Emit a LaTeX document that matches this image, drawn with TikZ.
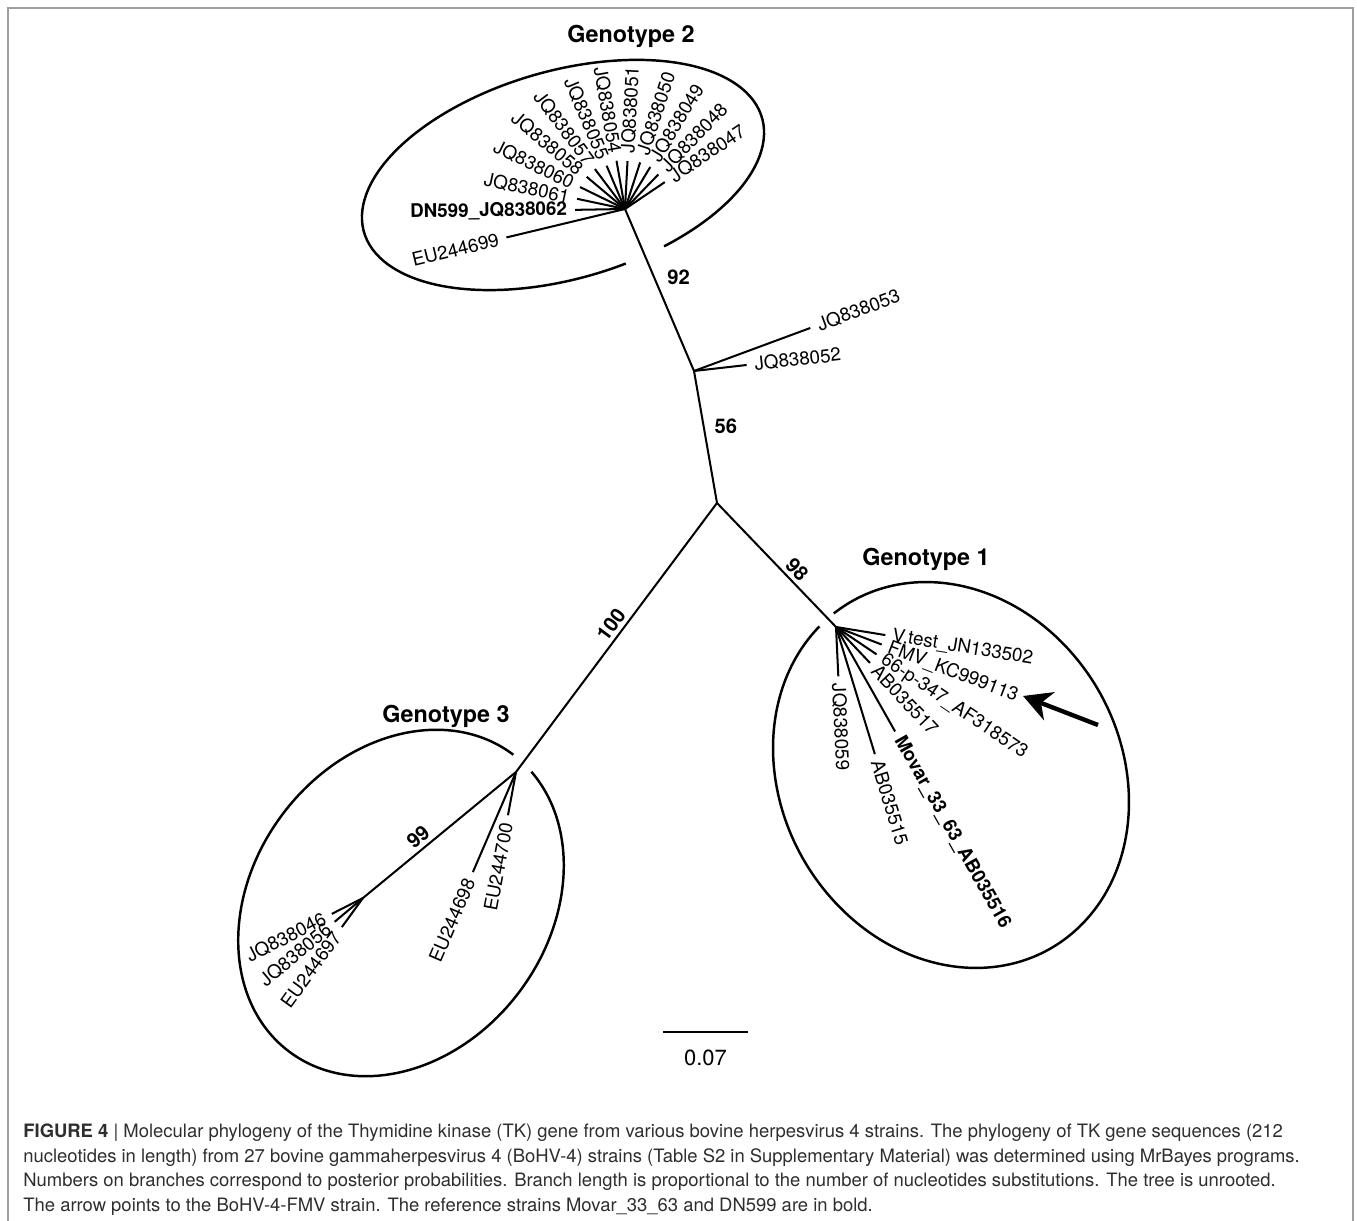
\documentclass[tikz,border=0pt]{standalone}
\usepackage{fontspec}
\setmainfont{TeX Gyre Heros}
\usepackage{tikz}
\usetikzlibrary{arrows.meta,calc}
\definecolor{ink}{HTML}{000000}
\definecolor{capink}{HTML}{2E2E2E}
\definecolor{rim}{HTML}{9E9E9E}
\tikzset{
  br/.style={line width=1.15pt,draw=ink},
  ell/.style={line width=1.4pt,draw=ink},
  lfr/.style={anchor=west,inner sep=4pt,font=\fontsize{10.7}{12}\selectfont},
  lfl/.style={anchor=east,inner sep=4pt,font=\fontsize{10.7}{12}\selectfont},
  pp/.style={inner sep=2pt,font=\fontsize{11.5}{13}\selectfont\bfseries},
  geno/.style={anchor=base,inner sep=0pt,font=\fontsize{13.3}{15}\selectfont\bfseries},
  captxt/.style={anchor=base west,inner sep=0pt,text=capink,font=\fontsize{10.5}{12}\selectfont},
}

\begin{document}
\begin{tikzpicture}[x=0.02cm,y=0.02cm]
  \useasboundingbox (0,0) rectangle (1357,1221);
  \draw[rim,line width=1.1pt] (8,0) -- (8,1213) -- (1353,1213) -- (1353,0);
  % inner nodes of the tree
  \coordinate (H2) at (625,1012);
  \coordinate (A) at (694,850);
  \coordinate (R) at (717,718);
  \coordinate (H1) at (836,594);
  \coordinate (H3) at (516,449);
  \coordinate (S3) at (363,323);
  \draw[br] (H2) -- (A) node[pp,pos=0.42,right=5pt] (p92) {92};
  \draw[br] (A) -- (R) node[pp,pos=0.42,right=3.7pt] (p56) {56};
  \draw[br] (R) -- (H1) node[pp,pos=0.6,sloped,above] (p98) {98};
  \draw[br] (R) -- (H3) node[pp,pos=0.48,sloped,above] (p100) {100};
  \draw[br] (H3) -- (S3) node[pp,pos=0.59,sloped,above] (p99) {99};
  % genotype 2
  \coordinate (g2a) at ($(H2)+(181:50)$);
  \coordinate (g2b) at ($(H2)+(168:49)$);
  \coordinate (g2c) at ($(H2)+(154:50)$);
  \coordinate (g2d) at ($(H2)+(140:50)$);
  \coordinate (g2e) at ($(H2)+(127:50)$);
  \coordinate (g2f) at ($(H2)+(113:47)$);
  \coordinate (g2g) at ($(H2)+(100:49)$);
  \coordinate (g2h) at ($(H2)+(87:48)$);
  \coordinate (g2i) at ($(H2)+(72:49)$);
  \coordinate (g2j) at ($(H2)+(59:49)$);
  \coordinate (g2k) at ($(H2)+(46:48)$);
  \coordinate (g2l) at ($(H2)+(34:48)$);
  \coordinate (g2m) at ($(H2)+(193.5:122)$);
  \draw[br] (H2) -- (g2a) node[lfl,rotate=1,font=\fontsize{10.7}{12}\selectfont\bfseries] (t62) {DN599\_JQ838062};
  \draw[br] (H2) -- (g2b) node[lfl,rotate=-12] (t61) {JQ838061};
  \draw[br] (H2) -- (g2c) node[lfl,rotate=-26] (t60) {JQ838060};
  \draw[br] (H2) -- (g2d) node[lfl,rotate=-40] (t58) {JQ838058};
  \draw[br] (H2) -- (g2e) node[lfl,rotate=-53] (t57) {JQ838057};
  \draw[br] (H2) -- (g2f) node[lfl,rotate=-67] (t55) {JQ838055};
  \draw[br] (H2) -- (g2g) node[lfl,rotate=-80] (t54) {JQ838054};
  \draw[br] (H2) -- (g2h) node[lfr,rotate=87] (t51) {JQ838051};
  \draw[br] (H2) -- (g2i) node[lfr,rotate=72] (t50) {JQ838050};
  \draw[br] (H2) -- (g2j) node[lfr,rotate=59] (t49) {JQ838049};
  \draw[br] (H2) -- (g2k) node[lfr,rotate=46] (t48) {JQ838048};
  \draw[br] (H2) -- (g2l) node[lfr,rotate=34] (t47) {JQ838047};
  \draw[br] (H2) -- (g2m) node[lfl,rotate=13.5] (t99) {EU244699};
  % the two strains between genotype 2 and the root
  \coordinate (a53) at ($(A)+(20.3:124)$);
  \coordinate (a52) at ($(A)+(6.5:53)$);
  \draw[br] (A) -- (a53) node[lfr,rotate=20.3] (t53) {JQ838053};
  \draw[br] (A) -- (a52) node[lfr,rotate=6.5] (t52) {JQ838052};
  % genotype 1
  \coordinate (g1a) at ($(H1)+(-9.3:50)$);
  \coordinate (g1b) at ($(H1)+(-21:49)$);
  \coordinate (g1c) at ($(H1)+(-34:49)$);
  \coordinate (g1d) at ($(H1)+(-46.6:49.5)$);
  \coordinate (g1e) at ($(H1)+(-60.5:120)$);
  \coordinate (g1f) at ($(H1)+(-73:133)$);
  \coordinate (g1g) at ($(H1)+(-87.3:49.5)$);
  \draw[br] (H1) -- (g1a) node[lfr,inner sep=3.5pt,rotate=-9.3] (t02) {V.test\_JN133502};
  \draw[br] (H1) -- (g1b) node[lfr,inner sep=3.5pt,rotate=-21] (t13) {FMV\_KC999113};
  \draw[br] (H1) -- (g1c) node[lfr,inner sep=3.5pt,rotate=-34] (t73) {66-p-347\_AF318573};
  \draw[br] (H1) -- (g1d) node[lfr,inner sep=3.5pt,rotate=-46.6] (t17) {AB035517};
  \draw[br] (H1) -- (g1e) node[lfr,inner sep=3.5pt,rotate=-60.5,font=\fontsize{10.7}{12}\selectfont\bfseries] (t16) {Movar\_33\_63\_AB035516};
  \draw[br] (H1) -- (g1f) node[lfr,inner sep=3.5pt,rotate=-73] (t15) {AB035515};
  \draw[br] (H1) -- (g1g) node[lfr,inner sep=3.5pt,rotate=-87.3] (t59) {JQ838059};
  % genotype 3
  \coordinate (g3a) at ($(H3)+(246.7:109)$);
  \coordinate (g3b) at ($(H3)+(259.5:44)$);
  \coordinate (g3c) at ($(S3)+(207:35)$);
  \coordinate (g3d) at ($(S3)+(220:37)$);
  \coordinate (g3e) at ($(S3)+(234:36)$);
  \draw[br] (H3) -- (g3a) node[lfl,rotate=66.7] (t98) {EU244698};
  \draw[br] (H3) -- (g3b) node[lfl,rotate=79.5] (t00) {EU244700};
  \draw[br] (S3) -- (g3c) node[lfl,rotate=27] (t46) {JQ838046};
  \draw[br] (S3) -- (g3d) node[lfl,rotate=40] (t56) {JQ838056};
  \draw[br] (S3) -- (g3e) node[lfl,rotate=54] (t97) {EU244697};
  % genotype rings, open where the tree leaves them
  \draw[ell,shift={(563,1046)},rotate=16] (-68:207 and 104) arc[start angle=-68,end angle=280,x radius=207,y radius=104];
  \draw[ell,shift={(951,446)},rotate=-60] (193.5:200 and 170) arc[start angle=193.5,end angle=547,x radius=200,y radius=170];
  \draw[ell,shift={(401,318)},rotate=53] (-0.2:186 and 148) arc[start angle=-0.2,end angle=350.2,x radius=186,y radius=148];
  \node[geno] (G2) at (631,1178) {Genotype 2};
  \node[geno] (G1) at (926,655) {Genotype 1};
  \node[geno] (G3) at (446,498) {Genotype 3};
  % pointer to FMV
  \coordinate (arT) at (1098,496);
  \coordinate (arH) at (1023,525);
  \draw[line width=2.5pt,-{Stealth[length=16pt,width=17pt,inset=5pt]}] (arT) -- (arH);
  % scale bar
  \coordinate (sb1) at (663,189);
  \coordinate (sb2) at (748,189);
  \draw[br] (sb1) -- (sb2);
  \node[font=\fontsize{12.5}{14}\selectfont] (sbt) at (705.5,163) {0.07};
  % caption
  \node[captxt] (c1) at (23,83) {\textbf{FIGURE 4} | Molecular phylogeny of the Thymidine kinase (TK) gene from various bovine herpesvirus 4 strains. The phylogeny of TK gene sequences (212};
  \node[captxt] (c2) at (23,58) {nucleotides in length) from 27 bovine gammaherpesvirus 4 (BoHV-4) strains (Table S2 in Supplementary Material) was determined using MrBayes programs.};
  \node[captxt] (c3) at (23,34) {Numbers on branches correspond to posterior probabilities. Branch length is proportional to the number of nucleotides substitutions. The tree is unrooted.};
  \node[captxt] (c4) at (23,9) {The arrow points to the BoHV-4-FMV strain. The reference strains Movar\_33\_63 and DN599 are in bold.};
\end{tikzpicture}
\end{document}
